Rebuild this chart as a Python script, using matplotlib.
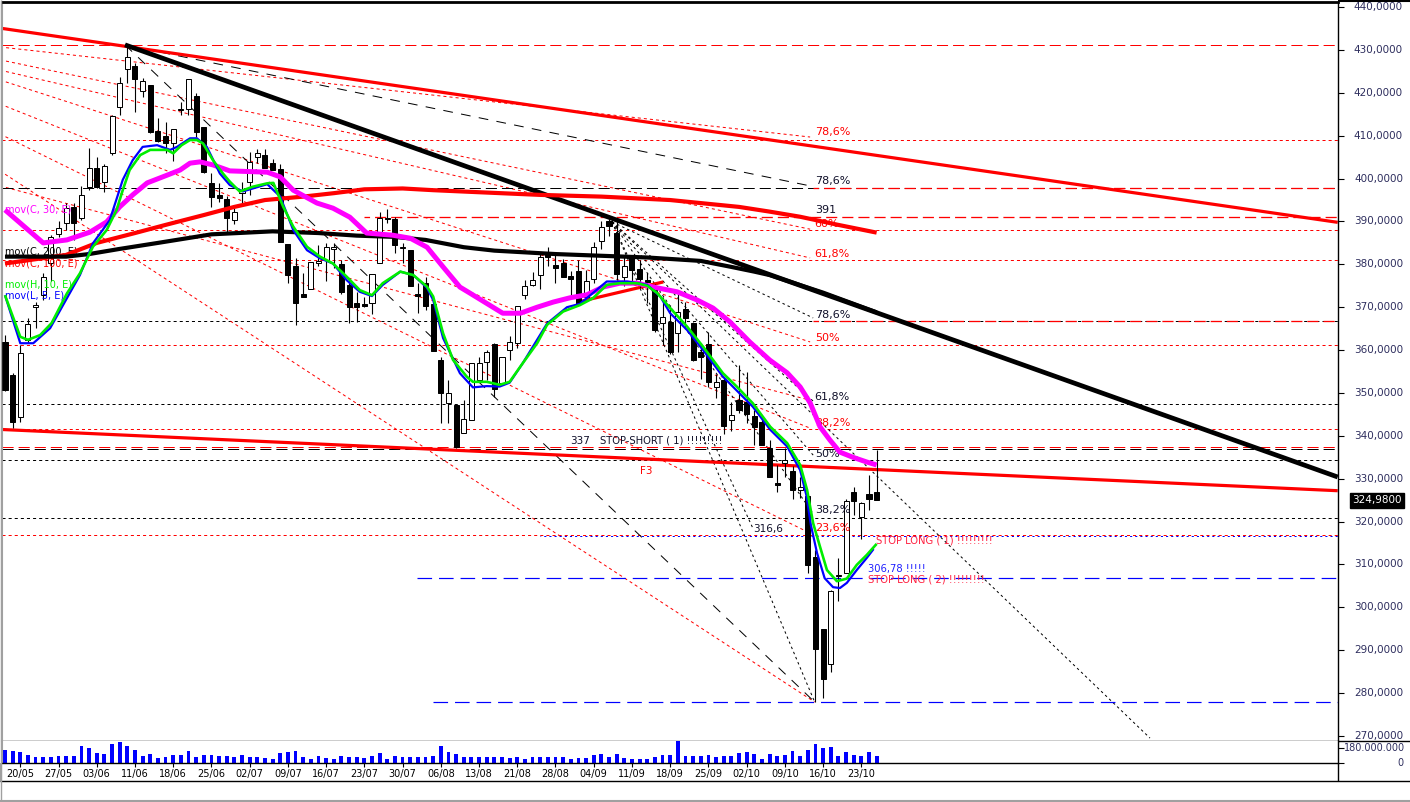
import matplotlib
matplotlib.use('Agg')
import matplotlib.pyplot as plt
import matplotlib.transforms as mtransforms
from matplotlib.lines import Line2D

plt.rcParams['font.family'] = ['DejaVu Sans']
plt.rcParams['lines.scale_dashes'] = False
plt.rcParams['lines.solid_capstyle'] = 'butt'

# ---------------- data ----------------
opens = [361.8, 354.2, 344.5, 362.4, 370.1, 372.8, 380.2, 387.1, 389.6, 393.3,
         390.7, 398.1, 402.4, 399.1, 405.9, 416.8, 425.5, 426.3, 420.5, 421.8,
         411.2, 409.9, 408.2, 416.0, 416.2, 419.3, 412.0, 398.9, 396.2, 395.2,
         390.3, 396.6, 399.1, 405.0, 405.5, 403.6, 402.2, 384.7, 379.5, 373.2,
         374.2, 380.4, 380.9, 383.5, 380.1, 375.2, 371.1, 370.7, 370.9, 380.2,
         390.9, 390.5, 383.8, 383.3, 373.0, 375.7, 370.8, 357.7, 347.7, 347.2,
         340.6, 343.7, 353.0, 357.3, 361.4, 352.3, 360.0, 361.6, 372.9, 375.2,
         377.5, 382.6, 379.8, 380.4, 377.3, 378.4, 372.3, 376.5, 385.4, 390.0,
         387.4, 377.0, 381.4, 379.0, 376.3, 374.2, 366.3, 366.6, 363.9, 369.7,
         366.3, 359.6, 361.5, 351.3, 353.0, 343.7, 348.4, 348.0, 344.6, 343.3,
         337.1, 329.0, 333.6, 331.8, 327.4, 325.9, 311.8, 294.9, 286.8, 307.3,
         307.9, 327.0, 321.0, 326.4, 326.8]
highs = [363.5, 354.6, 361.2, 367.4, 371.3, 377.9, 386.8, 390.0, 394.2, 394.2,
         398.3, 407.1, 405.0, 403.3, 414.8, 423.8, 431.0, 426.9, 423.4, 421.9,
         414.1, 413.3, 411.6, 417.9, 423.3, 419.9, 412.1, 401.2, 399.0, 396.0,
         393.4, 399.3, 406.3, 406.8, 406.8, 404.5, 403.3, 384.7, 381.4, 377.9,
         380.5, 384.5, 385.0, 385.0, 380.9, 376.3, 373.6, 372.5, 377.7, 392.3,
         392.8, 391.0, 384.9, 383.3, 375.7, 377.0, 370.8, 358.5, 353.0, 347.2,
         348.4, 357.1, 358.5, 360.0, 361.6, 358.3, 363.3, 370.3, 376.3, 378.3,
         382.6, 384.1, 382.2, 381.2, 378.4, 381.0, 378.7, 385.3, 390.0, 391.0,
         390.0, 382.0, 382.0, 381.0, 378.0, 375.5, 372.5, 370.5, 374.0, 371.3,
         366.5, 361.6, 364.3, 354.4, 353.5, 348.0, 356.5, 355.0, 346.0, 344.5,
         339.0, 333.2, 337.1, 333.0, 330.5, 326.3, 313.4, 295.0, 304.0, 311.4,
         325.3, 328.0, 324.5, 330.9, 336.8]
lows = [350.5, 341.8, 343.3, 361.6, 365.1, 371.7, 376.2, 386.4, 388.0, 385.7,
        390.3, 397.3, 397.7, 396.9, 405.5, 414.8, 422.2, 415.6, 419.1, 410.6,
        408.6, 405.9, 404.0, 414.8, 414.8, 409.8, 401.2, 393.4, 394.6, 387.3,
        389.5, 393.8, 396.2, 403.6, 402.5, 402.0, 385.1, 375.6, 365.9, 372.4,
        374.2, 379.5, 376.0, 379.1, 373.2, 366.4, 366.6, 370.0, 368.4, 380.2,
        389.6, 382.6, 380.2, 375.0, 368.6, 369.4, 359.9, 342.9, 343.0, 337.1,
        340.6, 343.7, 353.0, 353.0, 349.1, 352.3, 357.8, 360.6, 372.0, 375.0,
        374.2, 379.5, 375.6, 377.0, 372.5, 370.8, 372.3, 375.6, 383.5, 386.5,
        376.3, 375.0, 375.5, 374.5, 371.0, 364.3, 361.2, 359.2, 359.6, 365.0,
        357.5, 353.2, 351.3, 348.8, 340.4, 341.2, 345.3, 343.0, 337.9, 337.9,
        330.3, 326.8, 330.5, 325.2, 325.4, 308.1, 278.0, 278.8, 285.0, 301.4,
        307.9, 321.5, 316.0, 322.7, 325.0]
closes = [350.7, 343.3, 359.3, 366.2, 370.6, 377.1, 386.4, 388.4, 393.1, 389.7,
          396.2, 402.4, 398.1, 402.9, 414.6, 422.2, 428.3, 423.2, 422.8, 410.9,
          408.8, 408.2, 411.5, 416.3, 423.2, 410.9, 401.6, 395.6, 395.5, 390.7,
          392.3, 397.2, 403.8, 405.9, 402.5, 402.0, 385.1, 377.5, 370.9, 372.5,
          380.5, 380.8, 384.0, 384.0, 373.6, 370.0, 370.0, 370.4, 377.7, 390.7,
          390.6, 384.5, 384.1, 375.0, 372.7, 370.4, 359.9, 349.9, 350.1, 337.5,
          343.9, 357.1, 357.1, 359.6, 350.9, 358.3, 362.0, 370.3, 374.9, 376.3,
          381.6, 381.8, 379.1, 377.0, 376.5, 370.8, 376.0, 384.1, 388.6, 389.0,
          377.8, 379.7, 378.7, 376.6, 375.9, 364.7, 367.7, 359.6, 369.0, 367.4,
          357.7, 358.5, 352.6, 352.6, 342.4, 344.9, 346.0, 345.1, 342.1, 337.9,
          330.3, 328.6, 334.4, 327.3, 328.0, 309.9, 290.2, 283.2, 303.9, 307.6,
          324.9, 324.9, 324.3, 325.2, 324.98]
volume_m = [159, 146, 133, 94, 69, 69, 69, 81, 81, 81,
            210, 184, 120, 107, 223, 249, 210, 159, 81, 107,
            56, 69, 94, 94, 146, 69, 94, 94, 81, 81,
            69, 94, 69, 69, 56, 43, 120, 133, 146, 69,
            43, 81, 56, 43, 81, 69, 69, 56, 81, 120,
            43, 81, 69, 69, 69, 69, 81, 210, 133, 107,
            69, 69, 69, 69, 69, 69, 56, 69, 43, 69,
            69, 69, 69, 69, 43, 56, 56, 94, 107, 69,
            107, 56, 43, 43, 43, 69, 94, 94, 266, 81,
            81, 81, 94, 69, 81, 81, 120, 133, 107, 43,
            107, 81, 94, 146, 81, 159, 223, 184, 197, 81,
            133, 94, 81, 133, 81]
date_labels = ['20/05', '27/05', '03/06', '11/06', '18/06', '25/06', '02/07', '09/07',
               '16/07', '23/07', '30/07', '06/08', '13/08', '21/08', '28/08', '04/09',
               '11/09', '18/09', '25/09', '02/10', '09/10', '16/10', '23/10']
date_label_bars = [2, 7, 12, 17, 22, 27, 32, 37, 42, 47, 52, 57, 62, 67, 72, 77,
                   82, 87, 92, 97, 102, 107, 112]
price_ticks = [270, 280, 290, 300, 310, 320, 330, 340, 350, 360, 370, 380, 390,
               400, 410, 420, 430, 440]
last_price = 324.98

# moving averages (bar position, price)
ma30_x = [0, 5, 8.1, 11.1, 13.3, 15, 16.7, 18.6, 21.2, 22.9, 24.2, 25.5, 27.2, 29.4, 34.3,
          36, 37.7, 40.8, 42.9, 45.1, 47.3, 50.7, 53, 55.2, 57.3, 59.5, 60.8, 65.1, 67.4,
          69.6, 71.7, 73.9, 76.1, 78.2, 80.4, 82.7, 84.8, 87.9, 90.5, 92.6, 94.8, 97.4,
          100, 102.3, 104, 105.3, 106.6, 107.9, 109.2, 110.9, 112.7, 114]
ma30_y = [392.7, 385.0, 385.7, 387.5, 389.9, 393.4, 396.2, 399.0, 400.8, 402.0, 403.6,
          403.9, 403.2, 401.8, 401.5, 400.4, 397.3, 394.3, 393.1, 391.0, 387.3, 386.8,
          386.1, 384.0, 379.4, 374.7, 373.3, 368.6, 368.6, 370.0, 371.2, 372.2, 372.9,
          374.7, 375.6, 375.6, 374.7, 373.6, 371.7, 369.8, 366.6, 361.9, 357.7, 354.7,
          351.4, 347.7, 342.1, 339.0, 336.2, 335.0, 333.9, 333.2]
ma200_x = [0, 8, 11, 15, 20, 27, 35, 41, 46, 51, 55, 60, 64, 72, 84, 91, 95, 98, 100, 107, 114]
ma200_y = [381.8, 381.8, 382.4, 383.6, 385.0, 387.0, 387.7, 387.3, 386.7, 386.4, 385.7,
           384.0, 383.2, 382.4, 381.6, 380.8, 379.4, 378.3, 377.5, 373.4, 368.8]
ma100_x = [0, 8, 12, 17, 21, 26, 30, 34, 39, 43, 47, 52, 56, 61, 70, 78, 87, 96, 100, 104, 109, 114]
ma100_y = [380.2, 382.2, 385.0, 387.3, 389.2, 391.5, 393.4, 395.0, 395.8, 396.6, 397.5,
           397.7, 397.3, 396.9, 396.2, 395.8, 395.0, 393.4, 392.3, 391.1, 389.2, 387.4]
green_x = [0, 2.0, 3.0, 4.6, 6.1, 8.1, 9.8, 11.5, 13.3, 14.6, 15.4, 16.3, 17.7, 19.0, 21.2,
           22.0, 23.1, 24.2, 25.1, 25.9, 27.2, 28.5, 29.4, 30.7, 32.4, 34.3, 35.1, 36.4,
           37.7, 39.5, 41.2, 42.9, 44.7, 46.4, 48.0, 49.4, 51.7, 53.4, 55.2, 56.0, 57.3,
           58.6, 60.4, 61.2, 63.0, 64.7, 66.0, 67.7, 69.6, 70.9, 73.0, 75.2, 76.9, 78.7,
           80.4, 82.7, 84.0, 85.3, 87.0, 89.2, 91.3, 93.9, 95.7, 97.8, 100.1, 102.3,
           104.0, 104.9, 105.7, 106.6, 107.5, 108.8, 110.1, 111.4, 112.7, 114.0]
green_y = [372.8, 363.1, 362.4, 363.5, 366.3, 373.2, 377.9, 384.1, 388.0, 392.7, 397.3,
           402.0, 405.5, 406.7, 406.7, 405.9, 407.8, 409.0, 409.0, 408.2, 404.3, 401.2,
           399.3, 397.0, 398.1, 398.9, 399.0, 393.4, 388.8, 384.1, 381.8, 380.2, 377.1,
           374.0, 372.8, 375.6, 378.3, 377.5, 374.8, 372.5, 363.9, 357.7, 353.8, 352.6,
           352.6, 351.9, 352.6, 356.9, 361.6, 365.9, 369.0, 370.5, 372.1, 375.2, 375.6,
           375.6, 375.0, 373.3, 369.8, 365.5, 360.8, 354.6, 351.5, 347.6, 342.1, 338.3,
           333.2, 327.4, 319.6, 314.1, 308.7, 306.1, 306.7, 309.9, 312.2, 314.8]
blue_x = [0, 2.0, 3.7, 5.9, 8.1, 9.8, 11.5, 13.7, 15.4, 16.7, 18.0, 19.9, 21.6, 22.5, 24.2,
          25.1, 26.4, 28.1, 29.4, 31.1, 34.3, 36.0, 37.7, 39.5, 41.2, 42.9, 44.7, 46.4,
          48.0, 49.4, 51.7, 53.4, 55.2, 56.0, 57.3, 59.5, 61.2, 63.0, 64.7, 66.0, 67.7,
          70.9, 73.5, 75.2, 78.7, 81.4, 84.0, 85.7, 87.0, 89.2, 91.3, 93.9, 97.8, 100.1,
          102.3, 104.0, 104.8, 105.4, 106.2, 107.2, 108.3, 109.2, 110.1, 111.4, 112.7, 113.6]
blue_y = [372.8, 361.6, 361.6, 365.1, 372.1, 377.5, 384.9, 390.3, 399.7, 404.3, 407.4,
          407.8, 406.7, 407.4, 409.4, 409.4, 407.4, 401.2, 398.5, 397.0, 398.7, 395.8,
          388.0, 383.3, 381.4, 380.2, 376.3, 373.6, 372.6, 375.2, 378.3, 377.5, 374.5,
          371.7, 362.8, 354.6, 351.3, 351.6, 351.5, 352.4, 356.9, 366.2, 370.0, 370.8,
          376.0, 376.0, 375.2, 372.5, 368.6, 364.7, 360.0, 353.8, 346.8, 341.4, 337.5,
          332.0, 326.2, 319.2, 312.7, 306.8, 304.7, 304.5, 305.7, 308.7, 311.5, 313.6]

# drawn studies (bar, price)
red_thick_lines = [[(-0.65, 435.1), (174.3, 389.8)],
                   [(-0.65, 341.5), (174.3, 327.2)],
                   [(74.9, 371.2), (86.1, 375.9)]]
black_trend_line = [(15.7, 431.2), (174.3, 330.4)]
black_long_rays = [[(15.7, 431.2), (105.3, 398.3)],
                   [(15.7, 431.2), (105.9, 277.9)]]
red_dotted_rays = [[(-0.65, 430.7), (105.3, 409.7)],
                   [(-0.65, 427.7), (105.3, 388.2)],
                   [(-0.65, 425.3), (105.3, 381.5)],
                   [(-0.65, 423.0), (105.3, 361.9)],
                   [(-0.65, 417.4), (105.3, 341.8)],
                   [(-0.65, 410.4), (105.3, 317.3)],
                   [(-0.65, 401.8), (105.9, 277.9)],
                   [(-0.65, 398.3), (105.3, 348.3)]]
fan_origin = (79.4, 389.9)
fan_ends = [(105.7, 367.5), (105.7, 348.1), (105.7, 335.5), (105.7, 321.8),
            (97.8, 318.5), (105.9, 277.9), (149.75, 269.5)]
red_short_levels = [409.1, 388.1, 381.0, 361.3, 341.5, 316.9]
black_short_levels = [366.8, 347.5, 334.4, 320.9]
red_long_levels = [431.1, 337.5]
black_long_levels = [397.9, 337.0]
red_long_partial = [(391.0, 47.0), (397.9, 105.7), (366.8, 105.7)]
blue_long_partial = [(306.78, 53.9), (278.0, 56.0)]
blue_short_partial = [(316.6, 70.0)]
fib_labels = [('78,6%', 410.9, 'red'), ('78,6%', 399.4, 'black'), ('391', 392.7, 'black'),
              ('60%', 389.5, 'red'), ('61,8%', 382.4, 'red'), ('78,6%', 368.2, 'black'),
              ('50%', 362.8, 'red'), ('61,8%', 349.0, 'black'), ('38,2%', 343.0, 'red'),
              ('50%', 335.8, 'black'), ('38,2%', 322.6, 'black'), ('23,6%', 318.6, 'red')]
fib_label_bar = 105.9

# ---------------- figure ----------------
W, H = 1410.0, 802.0
fig = plt.figure(figsize=(W / 100, H / 100), dpi=100)
fig.patch.set_facecolor('white')


def box(x0, y0, x1, y1):
    return [x0 / W, 1 - y1 / H, (x1 - x0) / W, (y1 - y0) / H]


ax = fig.add_axes(box(2, 1.5, 1338, 741))
axv = fig.add_axes(box(2, 741, 1338, 763), sharex=ax)
XMIN, XMAX = -0.39, 174.34
ax.set_xlim(XMIN, XMAX)
ax.set_ylim(268.82, 441.31)

RED = '#ff0000'
short = (0, (2.2, 2.2))
longd = (0, (8.0, 3.6))
thin = 0.72

# horizontal levels
for p in red_short_levels:
    ax.axhline(p, color=RED, lw=thin, ls=short, zorder=1)
for p in black_short_levels:
    ax.axhline(p, color='black', lw=thin, ls=short, zorder=1)
for p in black_long_levels:
    ax.axhline(p, color='black', lw=thin, ls=(0, (8.0, 3.6)), zorder=1.1)
for p in red_long_levels:
    ax.axhline(p, color=RED, lw=thin, ls=longd, zorder=1.1)
for p, b0 in red_long_partial:
    ax.plot([b0, XMAX + 5], [p, p], color=RED, lw=thin * 1.3, ls=(4, (8.0, 3.6)), zorder=1.2)
for p, b0 in blue_long_partial:
    ax.plot([b0, XMAX + 5], [p, p], color='#0000ff', lw=thin * 1.2, ls=(0, (10.5, 5.0)), zorder=1.2)
for p, b0 in blue_short_partial:
    ax.plot([b0, XMAX + 5], [p, p], color='#0000ff', lw=thin, ls=(1, (1.5, 2.2)), zorder=1.05)

# rays and fans
for (a, b) in red_dotted_rays:
    ax.plot([a[0], b[0]], [a[1], b[1]], color=RED, lw=thin, ls=short, zorder=1)
for e in fan_ends:
    ax.plot([fan_origin[0], e[0]], [fan_origin[1], e[1]], color='black', lw=thin,
            ls=(0, (1.8, 2.2)), zorder=1)
for (a, b) in black_long_rays:
    ax.plot([a[0], b[0]], [a[1], b[1]], color='black', lw=thin, ls=(0, (7.0, 6.0)), zorder=1)

# thick trend lines
for (a, b) in red_thick_lines:
    ax.plot([a[0], b[0]], [a[1], b[1]], color=RED, lw=2.3, zorder=2)
ax.plot([black_trend_line[0][0], black_trend_line[1][0]],
        [black_trend_line[0][1], black_trend_line[1][1]], color='black', lw=3.4, zorder=2)

# candles
idx = list(range(len(closes)))
ax.vlines(idx, lows, highs, color='black', lw=0.8, zorder=2.9)
bodies, bottoms, faces = [], [], []
for o, c in zip(opens, closes):
    h = c - o
    if abs(h) < 0.3:
        h = 0.3 if h >= 0 else -0.3
    bodies.append(h)
    bottoms.append(o)
    faces.append('white' if c >= o else 'black')
ax.bar(idx, bodies, bottom=bottoms, width=0.66, color=faces, edgecolor='black',
       linewidth=0.72, zorder=3)

# moving averages
ax.plot(ma100_x, ma100_y, color=RED, lw=3.0, zorder=4, solid_joinstyle='round')
ax.plot(ma200_x, ma200_y, color='black', lw=3.0, zorder=4, solid_joinstyle='round')
ax.plot(ma30_x, ma30_y, color='#ff00ff', lw=3.6, zorder=4.2, solid_joinstyle='round')
ax.plot(blue_x, blue_y, color='#0000ff', lw=1.6, zorder=4.3)
ax.plot(green_x, green_y, color='#00ee00', lw=1.9, zorder=4.4)

# texts
for t, p, c in fib_labels:
    ax.text(fib_label_bar, p, t, color=RED if c == 'red' else '#10102a', fontsize=8,
            ha='left', va='center', zorder=3.5)
ax.text(97.8, 318.3, '316,6', color='#10102a', fontsize=7.5, ha='left', va='center', zorder=3.5)
ax.text(73.9, 338.8, '337', color='#10102a', fontsize=7.5, ha='left', va='center', zorder=3.5)
ax.text(77.8, 338.8, 'STOP-SHORT ( 1) !!!!!!!!!', color='#10102a', fontsize=7.2,
        ha='left', va='center', zorder=3.5)
ax.text(83.0, 331.7, 'F3', color=RED, fontsize=7.5, ha='left', va='center', zorder=3.5)
ax.text(113.9, 315.6, 'STOP LONG ( 1) !!!!!!!!!', color='#ff2040', fontsize=7.2,
        ha='left', va='center', zorder=5)
ax.text(112.9, 308.9, '306,78 !!!!!', color='#2020ff', fontsize=7.2,
        ha='left', va='center', zorder=5)
ax.text(112.9, 306.4, 'STOP LONG ( 2) !!!!!!!!!', color='#ff2040', fontsize=7.2,
        ha='left', va='center', zorder=5)
ax.text(0.0, 392.9, 'mov(C, 30, E)', color='#ff00ff', fontsize=7, ha='left', va='center', zorder=3.6)
ax.text(0.0, 382.9, 'mov(C, 200, E)', color='black', fontsize=7, ha='left', va='center', zorder=3.6)
ax.text(0.0, 380.3, 'mov(C, 100, E)', color=RED, fontsize=7, ha='left', va='center', zorder=3.55)
ax.text(0.0, 375.4, 'mov(H, 10, E)', color='#00ee00', fontsize=7, ha='left', va='center', zorder=3.6)
ax.text(0.0, 372.7, 'mov(L, 5, E)', color='#0000ff', fontsize=7, ha='left', va='center', zorder=3.6)

# price axis (right)
ax.yaxis.tick_right()
ax.set_yticks(price_ticks)
ax.tick_params(axis='y', direction='out', length=4, width=0.8, labelright=False, labelleft=False,
               left=False, right=True, color='black')
ax.tick_params(axis='x', bottom=False, labelbottom=False)
lab_tr = mtransforms.blended_transform_factory(fig.transFigure, ax.transData)
for v in price_ticks:
    ax.text(1403 / W, v, f'{v},0000', transform=lab_tr, ha='right', va='center',
            fontsize=7.5, color='#2e2e5e', clip_on=False)
ax.text(1352 / W, last_price, '324,9800', transform=lab_tr, ha='left', va='center',
        fontsize=7.5, color='white', clip_on=False,
        bbox=dict(boxstyle='square,pad=0.22', fc='black', ec='black'))

ax.spines['top'].set_linewidth(2.0)
ax.spines['left'].set_color('#a0a0a0')
ax.spines['left'].set_linewidth(1.5)
ax.spines['right'].set_linewidth(1.0)
ax.spines['bottom'].set_linewidth(1.0)

# volume panel
axv.bar(idx, volume_m, width=0.5, color='#0000ff', zorder=2)
axv.set_ylim(0, 264)
axv.set_xlim(XMIN, XMAX)
axv.yaxis.tick_right()
axv.set_yticks([0, 180])
axv.tick_params(axis='y', direction='out', length=4, width=0.8, labelright=False, labelleft=False,
                left=False, right=True)
vol_tr = mtransforms.blended_transform_factory(fig.transFigure, axv.transData)
axv.text(1405 / W, 180, '180.000.000', transform=vol_tr, ha='right', va='center',
         fontsize=7, color='#2e2e5e', clip_on=False)
axv.text(1403 / W, 0, '0', transform=vol_tr, ha='right', va='center',
         fontsize=7, color='#2e2e5e', clip_on=False)
axv.set_xticks(date_label_bars)
axv.set_xticklabels(date_labels)
axv.tick_params(axis='x', direction='out', length=3, width=0.8, pad=1.5, labelsize=7,
                labelcolor='black')
axv.spines['top'].set_visible(False)
axv.spines['left'].set_color('#a0a0a0')
axv.spines['left'].set_linewidth(1.5)
axv.spines['bottom'].set_linewidth(1.0)
axv.spines['right'].set_linewidth(1.0)

# frame lines outside axes
fig.add_artist(Line2D([1338 / W, 1.0], [1 - 741 / H] * 2, color='black', lw=1.0))
fig.add_artist(Line2D([0.0, 1.0], [1 - 781 / H] * 2, color='black', lw=1.0))
fig.add_artist(Line2D([1338 / W] * 2, [1 - 781 / H, 1 - 763 / H], color='black', lw=1.0))
fig.add_artist(Line2D([1338 / W, 1.0], [1 - 1 / H] * 2, color='black', lw=1.5))
fig.add_artist(Line2D([1 / W] * 2, [1 - 781 / H, 1 - 763 / H], color='#a0a0a0', lw=1.5))
fig.add_artist(Line2D([0.0, 1.0], [1 - 800.5 / H] * 2, color='#a0a0a0', lw=1.5))
fig.add_artist(Line2D([0.6 / W] * 2, [1 - 800.5 / H, 1.0], color='#a0a0a0', lw=1.0))

fig.savefig('out.png', dpi=100)
